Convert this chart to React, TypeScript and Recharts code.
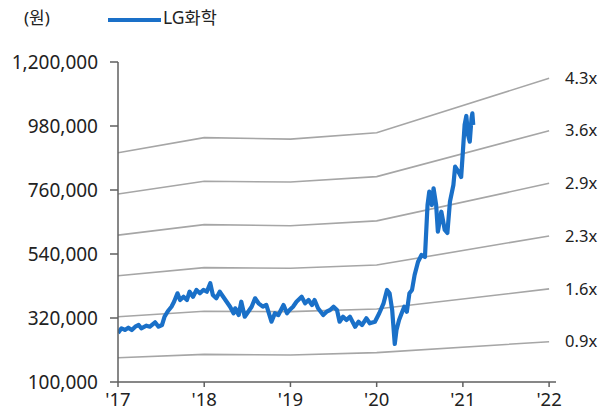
import { LineChart, Line, XAxis, YAxis } from 'recharts';

// P/B 밴드 (연말 기준점)
const BAND_YEARS = [2017, 2018, 2019, 2020, 2022];
const BAND_LABELS = ['4.3x', '3.6x', '2.9x', '2.3x', '1.6x', '0.9x'];
const BAND_43 = [888000, 940000, 935000, 957000, 1144000];
const BAND_36 = [746000, 790000, 787500, 806000, 964000];
const BAND_29 = [605000, 641000, 637000, 654000, 783000];
const BAND_23 = [465000, 493000, 491000, 502000, 602000];
const BAND_16 = [324500, 343000, 342000, 351000, 420000];
const BAND_09 = [183500, 195000, 193000, 201000, 238500];

// LG화학 주가 (연 단위 시점, 원)
const PRICE_T = [
  2017.0, 2017.04, 2017.08, 2017.12, 2017.16, 2017.2, 2017.24, 2017.27, 2017.33, 2017.37,
  2017.43, 2017.47, 2017.51, 2017.54, 2017.58, 2017.62, 2017.65, 2017.69, 2017.72, 2017.76,
  2017.8, 2017.83, 2017.87, 2017.91, 2017.95, 2017.99, 2018.03, 2018.07, 2018.1, 2018.14,
  2018.18, 2018.22, 2018.26, 2018.3, 2018.34, 2018.36, 2018.4, 2018.43, 2018.47, 2018.51,
  2018.55, 2018.59, 2018.63, 2018.68, 2018.72, 2018.78, 2018.82, 2018.86, 2018.92, 2018.96,
  2018.99, 2019.03, 2019.07, 2019.13, 2019.17, 2019.21, 2019.25, 2019.28, 2019.32, 2019.38,
  2019.42, 2019.46, 2019.5, 2019.54, 2019.57, 2019.61, 2019.65, 2019.69, 2019.75, 2019.79,
  2019.83, 2019.88, 2019.92, 2019.98, 2020.03, 2020.08, 2020.12, 2020.15, 2020.18, 2020.21,
  2020.23, 2020.26, 2020.29, 2020.32, 2020.35, 2020.38, 2020.41, 2020.44, 2020.48, 2020.52,
  2020.56, 2020.59, 2020.61, 2020.64, 2020.66, 2020.69, 2020.71, 2020.75, 2020.79, 2020.82,
  2020.85, 2020.89, 2020.91, 2020.95, 2020.98, 2021.0, 2021.02, 2021.04, 2021.06, 2021.08,
  2021.1, 2021.11, 2021.12,
];
const PRICE = [
  268400, 284600, 278800, 286700, 278800, 290100, 295900, 284600, 293500, 290100,
  305200, 290100, 295900, 324500, 344100, 358800, 376000, 404900, 381900, 393200,
  381900, 410400, 393200, 416300, 404900, 416300, 410400, 439300, 399100, 387700,
  410400, 393200, 376000, 358800, 336200, 353300, 330300, 376000, 324500, 341700,
  358800, 387700, 370500, 358800, 364700, 307300, 336200, 330300, 364700, 336200,
  347500, 358800, 376000, 393200, 370500, 381900, 364700, 381900, 353300, 330300,
  341700, 347500, 358800, 347500, 307300, 324500, 313100, 324500, 290100, 307300,
  295900, 319000, 301800, 307300, 336200, 370500, 416300, 404900, 347500, 230600,
  278800, 313100, 336200, 358800, 341700, 404900, 416300, 467800, 513500, 536600,
  529700, 708400, 754200, 708400, 765800, 708400, 616700, 685400, 622500, 612200,
  719800, 777200, 840100, 821900, 804700, 891700, 983400, 1014400, 949100, 926000,
  1006500, 1023600, 983400,
];

const Y_TICKS = [100000, 320000, 540000, 760000, 980000, 1200000];
const X_TICKS = [2017, 2018, 2019, 2020, 2021, 2022];

const FONT = '"Noto Sans", "Noto Sans CJK KR", sans-serif';
const AXIS = '#5f5f5f';

const bands = [BAND_43, BAND_36, BAND_29, BAND_23, BAND_16, BAND_09].map((vals, i) => ({
  label: BAND_LABELS[i],
  data: BAND_YEARS.map((t, j) => ({ t, v: vals[j] })),
}));
const priceData = PRICE_T.map((t, i) => ({ t, v: PRICE[i] }));

function bandLabel(text: string, last: number) {
  return (props: any) => {
    if (props.index !== last) return null;
    return (
      <text x={props.x + 16} y={props.y} dy="0.35em" fontSize={16.5} fill="#222" fontFamily={FONT}>
        {text}
      </text>
    );
  };
}

export default function App() {
  return (
    <div style={{ position: 'absolute', left: 0, top: 0, width: 609, height: 414, background: '#fff', fontFamily: FONT }}>
      <div style={{ position: 'absolute', left: 24, top: 4, fontSize: 17, color: '#222' }}>(원)</div>
      <div style={{ position: 'absolute', left: 108, top: 18, width: 53, height: 4, background: '#1a70c8' }} />
      <div style={{ position: 'absolute', left: 163, top: 4, fontSize: 17.5, color: '#222' }}>LG화학</div>
      <LineChart width={609} height={414} margin={{ top: 62, right: 53, bottom: 0, left: 0 }}>
        <XAxis
          type="number"
          dataKey="t"
          domain={[2017, 2022.08]}
          ticks={X_TICKS}
          allowDataOverflow
          tickFormatter={(v) => `'${String(v).slice(2)}`}
          tick={{ fill: '#222', fontSize: 18.5, fontFamily: FONT }}
          stroke={AXIS}
          strokeWidth={1.5}
          tickSize={5}
          tickMargin={6}
          height={32}
        />
        <YAxis
          type="number"
          domain={[100000, 1200000]}
          ticks={Y_TICKS}
          allowDataOverflow
          tickFormatter={(v) => v.toLocaleString('en-US')}
          tick={{ fill: '#222', fontSize: 19, fontFamily: FONT }}
          stroke={AXIS}
          strokeWidth={1.5}
          tickSize={8}
          tickMargin={12}
          width={118}
        />
        {bands.map((b) => (
          <Line
            key={b.label}
            data={b.data}
            dataKey="v"
            type="linear"
            stroke="#a6a6a6"
            strokeWidth={1.6}
            dot={false}
            isAnimationActive={false}
            label={bandLabel(b.label, b.data.length - 1)}
          />
        ))}
        <Line
          data={priceData}
          dataKey="v"
          type="linear"
          stroke="#1a70c8"
          strokeWidth={4.2}
          strokeLinejoin="round"
          dot={false}
          isAnimationActive={false}
        />
      </LineChart>
    </div>
  );
}
